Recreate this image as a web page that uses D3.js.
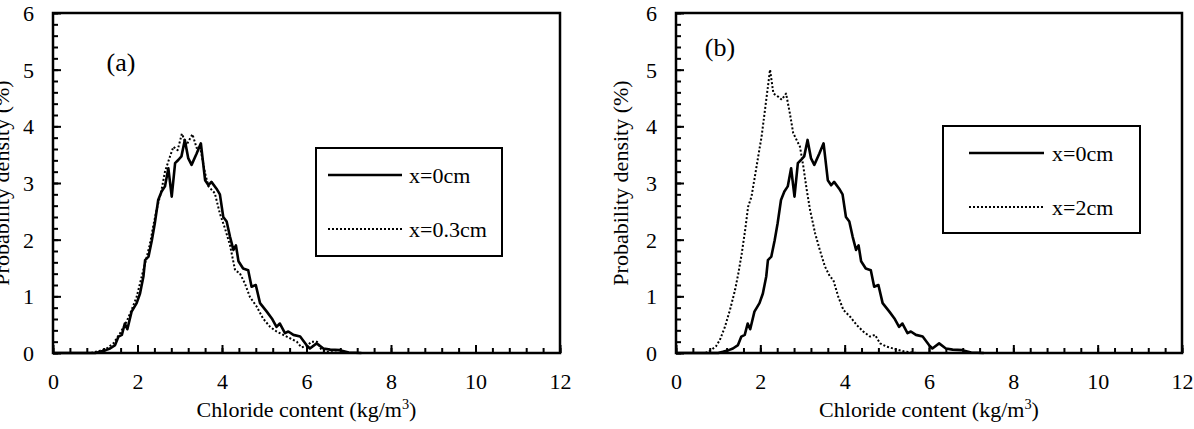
<!DOCTYPE html>
<html><head><meta charset="utf-8">
<script src="https://cdn.jsdelivr.net/npm/d3@7/dist/d3.min.js"></script>
<style>
html,body{margin:0;padding:0;background:#fff;}
svg text{font-family:"Liberation Serif","Times New Roman",serif;fill:#000;}
</style></head>
<body>
<svg id="chart" width="1194" height="429"></svg>
<script>
// ---------------- data ----------------
const xTickLabels = [0, 2, 4, 6, 8, 10, 12];
const yTickLabels = [0, 1, 2, 3, 4, 5, 6];
const xTitle = "Chloride content (kg/m";
const yTitle = "Probability density (%)";
const panelLabels = ["(a)", "(b)"];
const legendA = ["x=0cm", "x=0.3cm"];
const legendB = ["x=0cm", "x=2cm"];

// x = 0 cm (same curve in both panels)
const s0_x = [0,1.0,1.11,1.25,1.35,1.47,1.55,1.63,1.70,1.76,1.86,1.98,2.06,2.14,2.18,2.26,2.34,2.41,2.49,2.57,2.65,2.73,2.81,2.89,2.97,3.04,3.12,3.20,3.28,3.40,3.50,3.60,3.68,3.75,3.87,3.95,4.03,4.11,4.19,4.27,4.33,4.39,4.50,4.62,4.70,4.80,4.90,5.06,5.18,5.29,5.37,5.49,5.57,5.69,5.85,6.00,6.08,6.24,6.40,6.56,6.79,7.0,7.3];
const s0_y = [0,0,0.02,0.05,0.08,0.14,0.29,0.32,0.52,0.42,0.73,0.88,1.05,1.35,1.64,1.70,1.99,2.29,2.70,2.85,2.94,3.26,2.76,3.35,3.41,3.47,3.76,3.44,3.32,3.52,3.70,3.05,2.96,3.02,2.90,2.80,2.40,2.32,2.05,1.82,1.90,1.62,1.49,1.46,1.17,1.20,0.88,0.73,0.61,0.46,0.52,0.35,0.38,0.32,0.29,0.14,0.08,0.17,0.08,0.06,0.05,0.01,0];

// x = 0.3 cm
const s03_x = [0.9,1.11,1.27,1.43,1.59,1.74,1.86,1.98,2.10,2.22,2.30,2.37,2.45,2.57,2.65,2.77,2.85,2.95,3.05,3.16,3.30,3.40,3.48,3.60,3.68,3.83,3.95,4.07,4.19,4.31,4.42,4.54,4.66,4.82,4.97,5.14,5.29,5.45,5.61,5.77,5.88,6.00,6.12,6.25,6.35,6.5,6.8];
const s03_y = [0,0.04,0.08,0.17,0.35,0.55,0.76,0.99,1.35,1.70,1.94,2.23,2.52,2.88,3.20,3.47,3.64,3.58,3.87,3.67,3.86,3.62,3.64,3.17,2.94,2.82,2.46,2.20,1.90,1.46,1.41,1.23,0.99,0.82,0.61,0.46,0.38,0.32,0.26,0.20,0.10,0.12,0.20,0.20,0.06,0.02,0];

// x = 2 cm
const s2_x = [0.7,0.85,0.95,1.04,1.16,1.28,1.40,1.48,1.56,1.64,1.71,1.79,1.87,1.95,2.03,2.11,2.19,2.23,2.31,2.43,2.51,2.61,2.70,2.78,2.86,2.94,3.02,3.10,3.18,3.30,3.41,3.53,3.65,3.73,3.85,3.97,4.13,4.29,4.44,4.60,4.72,4.84,5.00,5.15,5.4,5.7];
const s2_y = [0,0.06,0.12,0.23,0.46,0.76,1.11,1.41,1.76,2.17,2.58,2.76,3.11,3.47,3.82,4.29,4.76,5.00,4.58,4.52,4.47,4.58,4.23,3.88,3.76,3.64,3.29,2.88,2.52,2.11,1.82,1.53,1.35,1.29,0.99,0.76,0.64,0.49,0.38,0.29,0.32,0.17,0.11,0.08,0.03,0];

// ---------------- drawing ----------------
const FS = 22;
const FS_LABEL = 26;
const svg = d3.select("#chart");
svg.append("rect").attr("width",1194).attr("height",429).attr("fill","#fff");

const zip = (xs, ys) => xs.map((x,i)=>[x, ys[i]]);

const panels = [
  {left:53, right:560, label:panelLabels[0], labelX:121, labelY:62, titleX:9,
   legend:{x0:316,y0:148,x1:502,y1:256, lx0:328, lx1:402, ly:[175,229], tx:409, names:legendA},
   series:[{d:zip(s0_x,s0_y), dash:null, w:2.6},{d:zip(s03_x,s03_y), dash:"2,2", w:2}]},
  {left:676, right:1182, label:panelLabels[1], labelX:720, labelY:47, titleX:628,
   legend:{x0:943,y0:126,x1:1140,y1:233, lx0:969, lx1:1044, ly:[153,207], tx:1052, names:legendB},
   series:[{d:zip(s0_x,s0_y), dash:null, w:2.6},{d:zip(s2_x,s2_y), dash:"2,2", w:2}]}
];
const plotTop = 13, plotBottom = 353;

panels.forEach(p => {
  const x = d3.scaleLinear().domain([0,12]).range([p.left, p.right]);
  const y = d3.scaleLinear().domain([0,6]).range([plotBottom, plotTop]);
  const g = svg.append("g");

  const xMinor = g.append("g").attr("transform",`translate(0,${plotBottom})`)
    .call(d3.axisBottom(x).tickValues(d3.range(0,12.001,0.4)).tickSize(-5).tickFormat(""));
  const xMajor = g.append("g").attr("transform",`translate(0,${plotBottom})`)
    .call(d3.axisBottom(x).tickValues(xTickLabels).tickSize(-8).tickPadding(20).tickFormat(d3.format("d")));
  const yMinor = g.append("g").attr("transform",`translate(${p.left},0)`)
    .call(d3.axisLeft(y).tickValues(d3.range(0,6.001,0.2)).tickSize(-5).tickFormat(""));
  const yMajor = g.append("g").attr("transform",`translate(${p.left},0)`)
    .call(d3.axisLeft(y).tickValues(yTickLabels).tickSize(-8).tickPadding(19).tickFormat(d3.format("d")));
  [xMinor,xMajor,yMinor,yMajor].forEach(a => {
    a.select(".domain").remove();
    a.selectAll("line").attr("stroke","#000").attr("stroke-width",2);
    a.selectAll("text").attr("font-size",FS).attr("font-family",'"Liberation Serif","Times New Roman",serif').attr("fill","#000");
  });
  xMajor.selectAll("text").attr("dy",null).attr("y",28).attr("dominant-baseline","central");
  yMajor.selectAll("text").attr("dy",null).attr("dominant-baseline","central");

  const line = d3.line().x(d=>x(d[0])).y(d=>y(d[1]));
  p.series.forEach(s => {
    g.append("path").datum(s.d).attr("d",line).attr("fill","none")
      .attr("stroke","#000").attr("stroke-width",s.w)
      .attr("stroke-dasharray",s.dash).attr("stroke-linejoin","round");
  });

  g.append("rect").attr("x",p.left).attr("y",plotTop).attr("width",p.right-p.left).attr("height",plotBottom-plotTop)
    .attr("fill","none").attr("stroke","#000").attr("stroke-width",2.5);

  const xt = g.append("text").attr("x",(p.left+p.right)/2).attr("y",417).attr("text-anchor","middle").attr("font-size",FS);
  xt.append("tspan").text(xTitle);
  xt.append("tspan").text("3").attr("font-size",FS*0.65).attr("dy",-8);
  xt.append("tspan").text(")").attr("dy",8);

  g.append("text").attr("transform",`translate(${p.titleX},${(plotTop+plotBottom)/2}) rotate(-90)`)
    .attr("text-anchor","middle").attr("font-size",FS).text(yTitle);

  g.append("text").attr("x",p.labelX).attr("y",p.labelY).attr("text-anchor","middle")
    .attr("dominant-baseline","central").attr("font-size",FS_LABEL).text(p.label);

  const L = p.legend;
  g.append("rect").attr("x",L.x0).attr("y",L.y0).attr("width",L.x1-L.x0).attr("height",L.y1-L.y0)
    .attr("fill","#fff").attr("stroke","#000").attr("stroke-width",2);
  p.series.forEach((s,i) => {
    g.append("line").attr("x1",L.lx0).attr("x2",L.lx1).attr("y1",L.ly[i]).attr("y2",L.ly[i])
      .attr("stroke","#000").attr("stroke-width",s.w).attr("stroke-dasharray",s.dash);
    g.append("text").attr("x",L.tx).attr("y",L.ly[i]).attr("dominant-baseline","central")
      .attr("font-size",FS).text(L.names[i]);
  });
});
</script>
</body></html>
